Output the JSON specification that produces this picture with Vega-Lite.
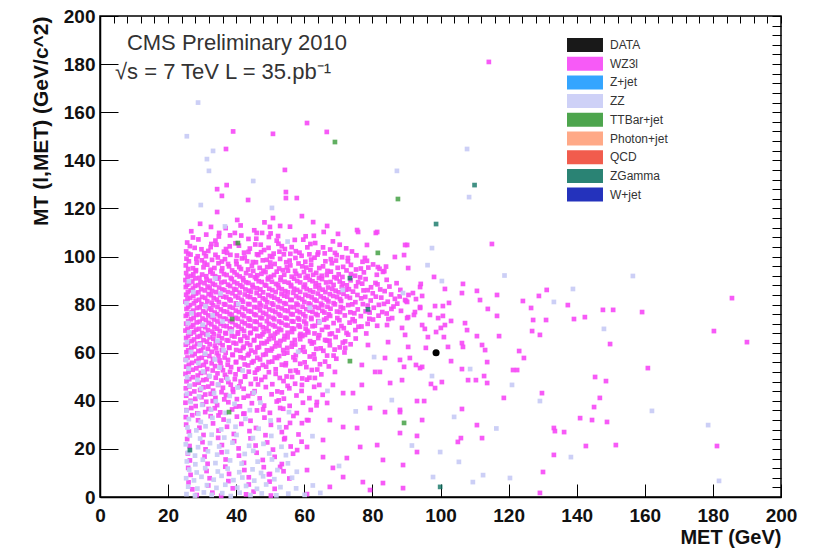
{
"$schema":"https://vega.github.io/schema/vega-lite/v6.json",
"width":681,"height":481,
"autosize":"none",
"padding":{"left":100,"top":16,"right":42,"bottom":55},
"background":"white",
"config":{
"view":{"stroke":"black","strokeWidth":1.5},
"font":"Liberation Sans",
"axis":{"domainColor":"black","domainWidth":1.5,"tickColor":"black","tickWidth":1,"grid":false,"labelFont":"Liberation Sans","labelFontWeight":"bold","labelFontSize":19,"labelColor":"#111","titleFont":"Liberation Sans","titleFontWeight":"bold","titleFontSize":20,"titleColor":"#111","labelFlush":false,"labelOverlap":false}
},
"datasets":{
"wz":[
{"MET":26.8,"MT":110.5},{"MET":31.2,"MT":109.1},{"MET":36.9,"MT":111.8},{"MET":41.5,"MT":108.7},{"MET":45.3,"MT":110.9},{"MET":50.1,"MT":109.6},{"MET":55.8,"MT":112.4},{"MET":60.4,"MT":108.4},{"MET":65.7,"MT":110.2},{"MET":29.4,"MT":113.6},{"MET":48.3,"MT":114.2},
{"MET":25.6,"MT":105.8},{"MET":28.9,"MT":107.1},{"MET":32.7,"MT":105.2},{"MET":34.9,"MT":108.3},{"MET":39.8,"MT":105.5},{"MET":43.6,"MT":107.3},{"MET":47.2,"MT":104.9},{"MET":51.9,"MT":106.6},{"MET":53.4,"MT":104.3},{"MET":59.7,"MT":107.0},{"MET":63.2,"MT":105.6},{"MET":68.4,"MT":106.3},
{"MET":25.3,"MT":102.1},{"MET":27.8,"MT":103.6},{"MET":30.6,"MT":101.4},{"MET":32.5,"MT":103.9},{"MET":36.4,"MT":102.0},{"MET":38.1,"MT":104.2},{"MET":42.3,"MT":101.6},{"MET":44.0,"MT":103.3},{"MET":48.2,"MT":102.7},{"MET":51.0,"MT":101.2},{"MET":54.3,"MT":103.1},{"MET":57.5,"MT":102.2},{"MET":60.9,"MT":103.8},{"MET":64.1,"MT":101.7},{"MET":67.6,"MT":102.9},{"MET":72.3,"MT":103.4},{"MET":46.1,"MT":100.9},
{"MET":25.4,"MT":99.1},{"MET":26.6,"MT":100.8},{"MET":29.9,"MT":98.4},{"MET":31.1,"MT":100.1},{"MET":34.6,"MT":99.6},{"MET":35.8,"MT":97.9},{"MET":38.3,"MT":100.7},{"MET":41.7,"MT":99.2},{"MET":43.2,"MT":98.0},{"MET":46.5,"MT":100.6},{"MET":49.0,"MT":98.6},{"MET":50.6,"MT":99.8},{"MET":54.0,"MT":100.9},{"MET":55.7,"MT":98.3},{"MET":59.2,"MT":100.3},{"MET":62.0,"MT":98.7},{"MET":63.9,"MT":100.8},{"MET":67.8,"MT":98.9},{"MET":71.1,"MT":99.7},{"MET":75.3,"MT":100.5},{"MET":78.4,"MT":98.2},
{"MET":25.2,"MT":96.3},{"MET":27.3,"MT":95.1},{"MET":28.4,"MT":97.4},{"MET":31.5,"MT":96.6},{"MET":33.6,"MT":95.2},{"MET":34.8,"MT":97.2},{"MET":37.9,"MT":95.9},{"MET":40.1,"MT":96.8},{"MET":41.4,"MT":94.8},{"MET":44.6,"MT":96.1},{"MET":45.8,"MT":97.6},{"MET":49.1,"MT":95.6},{"MET":51.3,"MT":96.9},{"MET":52.6,"MT":95.0},{"MET":55.9,"MT":96.3},{"MET":58.3,"MT":97.1},{"MET":60.6,"MT":95.4},{"MET":62.0,"MT":96.6},{"MET":65.5,"MT":95.9},{"MET":68.1,"MT":97.2},{"MET":69.8,"MT":95.3},{"MET":73.7,"MT":96.5},{"MET":76.6,"MT":95.0},{"MET":80.2,"MT":96.7},{"MET":84.0,"MT":95.8},
{"MET":25.3,"MT":93.1},{"MET":26.7,"MT":91.9},{"MET":28.1,"MT":93.9},{"MET":30.0,"MT":92.5},{"MET":32.4,"MT":93.6},{"MET":33.8,"MT":91.8},{"MET":35.7,"MT":93.9},{"MET":37.2,"MT":92.3},{"MET":39.5,"MT":93.4},{"MET":41.0,"MT":91.7},{"MET":42.9,"MT":93.1},{"MET":45.0,"MT":94.0},{"MET":46.2,"MT":92.2},{"MET":48.6,"MT":93.5},{"MET":50.2,"MT":91.6},{"MET":51.9,"MT":93.7},{"MET":54.1,"MT":92.4},{"MET":55.2,"MT":94.1},{"MET":57.6,"MT":92.8},{"MET":59.9,"MT":93.5},{"MET":61.0,"MT":91.9},{"MET":63.5,"MT":93.2},{"MET":65.1,"MT":92.0},{"MET":67.8,"MT":93.7},{"MET":70.1,"MT":92.6},{"MET":72.4,"MT":94.2},{"MET":74.9,"MT":92.0},{"MET":77.5,"MT":93.4},{"MET":81.3,"MT":92.4},{"MET":83.5,"MT":93.9},
{"MET":25.1,"MT":90.2},{"MET":26.2,"MT":88.9},{"MET":28.0,"MT":90.9},{"MET":29.5,"MT":89.3},{"MET":31.3,"MT":90.4},{"MET":33.1,"MT":88.7},{"MET":34.4,"MT":90.8},{"MET":36.6,"MT":89.5},{"MET":38.7,"MT":90.6},{"MET":40.3,"MT":88.8},{"MET":42.1,"MT":90.1},{"MET":43.6,"MT":89.0},{"MET":45.9,"MT":90.7},{"MET":47.5,"MT":89.4},{"MET":49.3,"MT":90.5},{"MET":51.7,"MT":88.6},{"MET":53.0,"MT":90.2},{"MET":55.4,"MT":89.1},{"MET":57.0,"MT":90.8},{"MET":58.8,"MT":89.2},{"MET":61.6,"MT":90.3},{"MET":63.4,"MT":88.9},{"MET":65.2,"MT":90.6},{"MET":67.7,"MT":89.4},{"MET":69.5,"MT":90.9},{"MET":71.3,"MT":88.8},{"MET":73.6,"MT":90.1},{"MET":75.8,"MT":89.3},{"MET":78.0,"MT":90.6},{"MET":80.9,"MT":89.0},{"MET":84.2,"MT":90.3},{"MET":87.1,"MT":88.9},
{"MET":25.2,"MT":87.3},{"MET":26.6,"MT":85.9},{"MET":27.9,"MT":87.8},{"MET":29.7,"MT":86.4},{"MET":31.6,"MT":87.5},{"MET":32.9,"MT":85.7},{"MET":35.0,"MT":87.1},{"MET":36.5,"MT":86.0},{"MET":38.2,"MT":87.7},{"MET":40.0,"MT":86.2},{"MET":41.8,"MT":87.4},{"MET":43.7,"MT":85.8},{"MET":44.9,"MT":87.2},{"MET":47.1,"MT":86.3},{"MET":48.8,"MT":87.9},{"MET":50.6,"MT":86.0},{"MET":52.5,"MT":87.0},{"MET":54.4,"MT":85.6},{"MET":56.1,"MT":87.6},{"MET":57.9,"MT":86.1},{"MET":59.8,"MT":87.3},{"MET":61.7,"MT":85.9},{"MET":63.3,"MT":87.5},{"MET":65.4,"MT":86.2},{"MET":67.0,"MT":87.1},{"MET":69.2,"MT":85.8},{"MET":71.0,"MT":87.4},{"MET":73.1,"MT":86.4},{"MET":75.2,"MT":87.6},{"MET":77.4,"MT":85.9},{"MET":79.6,"MT":87.2},{"MET":82.3,"MT":86.3},{"MET":85.0,"MT":87.5},{"MET":88.2,"MT":86.1},
{"MET":25.3,"MT":84.1},{"MET":26.5,"MT":82.8},{"MET":28.2,"MT":84.6},{"MET":30.0,"MT":83.2},{"MET":31.9,"MT":84.4},{"MET":33.4,"MT":82.7},{"MET":35.3,"MT":84.0},{"MET":37.1,"MT":83.0},{"MET":38.9,"MT":84.7},{"MET":40.6,"MT":82.9},{"MET":42.5,"MT":84.2},{"MET":44.1,"MT":83.1},{"MET":46.0,"MT":84.8},{"MET":47.8,"MT":82.6},{"MET":49.4,"MT":84.0},{"MET":51.2,"MT":82.9},{"MET":53.3,"MT":84.4},{"MET":55.0,"MT":83.3},{"MET":56.8,"MT":84.9},{"MET":58.4,"MT":82.8},{"MET":60.3,"MT":84.1},{"MET":62.2,"MT":83.0},{"MET":64.0,"MT":84.6},{"MET":65.7,"MT":82.7},{"MET":67.5,"MT":84.3},{"MET":69.6,"MT":83.1},{"MET":71.5,"MT":84.5},{"MET":73.4,"MT":82.8},{"MET":75.6,"MT":84.0},{"MET":77.9,"MT":83.2},{"MET":80.1,"MT":84.7},{"MET":82.6,"MT":82.9},{"MET":85.5,"MT":84.2},{"MET":88.0,"MT":83.4},{"MET":90.6,"MT":84.0},
{"MET":25.1,"MT":81.2},{"MET":26.4,"MT":79.8},{"MET":28.1,"MT":81.6},{"MET":29.8,"MT":80.2},{"MET":31.5,"MT":81.4},{"MET":33.2,"MT":79.7},{"MET":34.9,"MT":81.0},{"MET":36.8,"MT":80.0},{"MET":38.4,"MT":81.7},{"MET":40.2,"MT":79.9},{"MET":42.0,"MT":81.2},{"MET":43.9,"MT":80.1},{"MET":45.5,"MT":81.8},{"MET":47.3,"MT":79.6},{"MET":49.1,"MT":81.0},{"MET":50.9,"MT":79.9},{"MET":52.8,"MT":81.4},{"MET":54.6,"MT":80.3},{"MET":56.3,"MT":81.9},{"MET":58.1,"MT":79.8},{"MET":60.0,"MT":81.1},{"MET":61.8,"MT":80.0},{"MET":63.6,"MT":81.6},{"MET":65.3,"MT":79.7},{"MET":67.1,"MT":81.3},{"MET":69.0,"MT":80.1},{"MET":70.8,"MT":81.5},{"MET":72.9,"MT":79.8},{"MET":75.0,"MT":81.0},{"MET":77.2,"MT":80.2},{"MET":79.5,"MT":81.7},{"MET":81.9,"MT":79.9},{"MET":84.5,"MT":81.2},{"MET":87.3,"MT":80.4},{"MET":89.9,"MT":81.5},
{"MET":25.4,"MT":78.2},{"MET":26.9,"MT":76.8},{"MET":28.5,"MT":78.6},{"MET":30.3,"MT":77.2},{"MET":32.0,"MT":78.4},{"MET":33.7,"MT":76.7},{"MET":35.5,"MT":78.0},{"MET":37.3,"MT":77.0},{"MET":39.0,"MT":78.7},{"MET":40.8,"MT":76.9},{"MET":42.6,"MT":78.2},{"MET":44.4,"MT":77.1},{"MET":46.1,"MT":78.8},{"MET":47.9,"MT":76.6},{"MET":49.7,"MT":78.0},{"MET":51.5,"MT":76.9},{"MET":53.4,"MT":78.4},{"MET":55.2,"MT":77.3},{"MET":56.9,"MT":78.9},{"MET":58.7,"MT":76.8},{"MET":60.6,"MT":78.1},{"MET":62.4,"MT":77.0},{"MET":64.2,"MT":78.6},{"MET":65.9,"MT":76.7},{"MET":67.7,"MT":78.3},{"MET":69.6,"MT":77.1},{"MET":71.4,"MT":78.5},{"MET":73.5,"MT":76.8},{"MET":75.7,"MT":78.0},{"MET":78.0,"MT":77.2},{"MET":80.4,"MT":78.7},{"MET":82.9,"MT":76.9},{"MET":85.6,"MT":78.2},{"MET":88.4,"MT":77.4},
{"MET":25.2,"MT":75.3},{"MET":26.7,"MT":73.9},{"MET":28.3,"MT":75.7},{"MET":30.1,"MT":74.2},{"MET":31.8,"MT":75.5},{"MET":33.5,"MT":73.8},{"MET":35.2,"MT":75.1},{"MET":37.0,"MT":74.0},{"MET":38.7,"MT":75.8},{"MET":40.5,"MT":74.1},{"MET":42.3,"MT":75.2},{"MET":44.0,"MT":73.7},{"MET":45.8,"MT":75.6},{"MET":47.6,"MT":74.3},{"MET":49.5,"MT":75.0},{"MET":51.2,"MT":73.9},{"MET":53.0,"MT":75.4},{"MET":54.9,"MT":74.2},{"MET":56.6,"MT":75.9},{"MET":58.5,"MT":73.8},{"MET":60.3,"MT":75.1},{"MET":62.1,"MT":74.0},{"MET":63.9,"MT":75.6},{"MET":65.8,"MT":73.7},{"MET":67.6,"MT":75.3},{"MET":69.7,"MT":74.4},{"MET":71.9,"MT":75.5},{"MET":74.2,"MT":73.9},{"MET":76.6,"MT":75.2},{"MET":79.1,"MT":74.1},{"MET":81.8,"MT":75.4},{"MET":84.7,"MT":74.0},
{"MET":25.3,"MT":72.1},{"MET":26.8,"MT":70.8},{"MET":28.4,"MT":72.6},{"MET":30.2,"MT":71.2},{"MET":31.9,"MT":72.4},{"MET":33.6,"MT":70.7},{"MET":35.4,"MT":72.0},{"MET":37.2,"MT":71.0},{"MET":38.9,"MT":72.7},{"MET":40.7,"MT":70.9},{"MET":42.5,"MT":72.2},{"MET":44.2,"MT":71.1},{"MET":46.0,"MT":72.8},{"MET":47.8,"MT":70.6},{"MET":49.6,"MT":72.0},{"MET":51.4,"MT":70.9},{"MET":53.3,"MT":72.4},{"MET":55.1,"MT":71.3},{"MET":56.8,"MT":72.9},{"MET":58.7,"MT":70.8},{"MET":60.5,"MT":72.1},{"MET":62.4,"MT":71.0},{"MET":64.3,"MT":72.6},{"MET":66.4,"MT":70.7},{"MET":68.6,"MT":72.3},{"MET":70.9,"MT":71.1},{"MET":73.3,"MT":72.5},{"MET":75.9,"MT":70.8},{"MET":78.6,"MT":72.0},{"MET":81.4,"MT":71.2},
{"MET":25.1,"MT":69.2},{"MET":26.6,"MT":67.9},{"MET":28.2,"MT":69.6},{"MET":30.0,"MT":68.2},{"MET":31.7,"MT":69.4},{"MET":33.4,"MT":67.7},{"MET":35.2,"MT":69.0},{"MET":37.0,"MT":68.0},{"MET":38.7,"MT":69.7},{"MET":40.5,"MT":67.9},{"MET":42.3,"MT":69.1},{"MET":44.1,"MT":68.1},{"MET":45.9,"MT":69.8},{"MET":47.7,"MT":67.6},{"MET":49.5,"MT":69.0},{"MET":51.4,"MT":67.9},{"MET":53.2,"MT":69.4},{"MET":55.1,"MT":68.3},{"MET":57.0,"MT":69.9},{"MET":58.9,"MT":67.8},{"MET":60.9,"MT":69.1},{"MET":63.0,"MT":68.0},{"MET":65.2,"MT":69.5},{"MET":67.5,"MT":67.7},{"MET":69.9,"MT":69.2},{"MET":72.4,"MT":68.2},{"MET":75.0,"MT":69.4},{"MET":78.2,"MT":68.0},
{"MET":25.3,"MT":66.1},{"MET":26.9,"MT":64.8},{"MET":28.6,"MT":66.6},{"MET":30.4,"MT":65.2},{"MET":32.2,"MT":66.4},{"MET":34.0,"MT":64.7},{"MET":35.8,"MT":66.0},{"MET":37.7,"MT":65.0},{"MET":39.5,"MT":66.7},{"MET":41.4,"MT":64.9},{"MET":43.3,"MT":66.2},{"MET":45.2,"MT":65.1},{"MET":47.1,"MT":66.8},{"MET":49.0,"MT":64.6},{"MET":51.0,"MT":66.0},{"MET":53.0,"MT":64.9},{"MET":55.1,"MT":66.4},{"MET":57.2,"MT":65.3},{"MET":59.4,"MT":66.9},{"MET":61.7,"MT":64.8},{"MET":64.1,"MT":66.1},{"MET":66.6,"MT":65.0},{"MET":69.2,"MT":66.5},{"MET":72.0,"MT":64.7},{"MET":75.1,"MT":65.9},
{"MET":25.2,"MT":63.3},{"MET":26.8,"MT":61.9},{"MET":28.5,"MT":63.7},{"MET":30.3,"MT":62.2},{"MET":32.2,"MT":63.5},{"MET":34.1,"MT":61.8},{"MET":36.0,"MT":63.1},{"MET":38.0,"MT":62.0},{"MET":40.0,"MT":63.8},{"MET":42.0,"MT":61.9},{"MET":44.1,"MT":63.2},{"MET":46.2,"MT":62.1},{"MET":48.3,"MT":63.9},{"MET":50.5,"MT":61.7},{"MET":52.7,"MT":63.0},{"MET":55.0,"MT":62.0},{"MET":57.3,"MT":63.4},{"MET":59.7,"MT":62.3},{"MET":62.2,"MT":63.8},{"MET":64.8,"MT":61.8},{"MET":67.5,"MT":63.1},{"MET":70.4,"MT":62.2},{"MET":73.6,"MT":63.5},
{"MET":25.4,"MT":60.2},{"MET":27.1,"MT":58.9},{"MET":28.9,"MT":60.7},{"MET":30.8,"MT":59.2},{"MET":32.8,"MT":60.4},{"MET":34.8,"MT":58.7},{"MET":36.9,"MT":60.0},{"MET":39.0,"MT":59.0},{"MET":41.2,"MT":60.8},{"MET":43.4,"MT":58.9},{"MET":45.6,"MT":60.2},{"MET":47.9,"MT":59.1},{"MET":50.2,"MT":60.9},{"MET":52.6,"MT":58.6},{"MET":55.0,"MT":60.0},{"MET":57.5,"MT":59.0},{"MET":60.1,"MT":60.4},{"MET":62.8,"MT":59.3},{"MET":65.6,"MT":60.8},{"MET":68.6,"MT":58.8},{"MET":71.8,"MT":60.1},
{"MET":25.2,"MT":57.1},{"MET":27.0,"MT":55.8},{"MET":29.0,"MT":57.6},{"MET":31.1,"MT":56.2},{"MET":33.2,"MT":57.4},{"MET":35.4,"MT":55.7},{"MET":37.6,"MT":57.0},{"MET":39.9,"MT":56.0},{"MET":42.2,"MT":57.7},{"MET":44.6,"MT":55.9},{"MET":47.0,"MT":57.2},{"MET":49.5,"MT":56.1},{"MET":52.0,"MT":57.8},{"MET":54.6,"MT":55.6},{"MET":57.3,"MT":57.0},{"MET":60.1,"MT":56.0},{"MET":63.0,"MT":57.4},{"MET":66.1,"MT":56.3},{"MET":69.4,"MT":57.5},
{"MET":25.3,"MT":54.2},{"MET":27.2,"MT":52.9},{"MET":29.3,"MT":54.6},{"MET":31.5,"MT":53.2},{"MET":33.8,"MT":54.4},{"MET":36.1,"MT":52.7},{"MET":38.5,"MT":54.0},{"MET":41.0,"MT":53.0},{"MET":43.5,"MT":54.7},{"MET":46.1,"MT":52.9},{"MET":48.8,"MT":54.2},{"MET":51.6,"MT":53.1},{"MET":54.5,"MT":54.8},{"MET":57.5,"MT":52.6},{"MET":60.6,"MT":54.0},{"MET":63.8,"MT":53.0},{"MET":67.2,"MT":54.3},
{"MET":25.1,"MT":51.2},{"MET":27.3,"MT":49.8},{"MET":29.6,"MT":51.6},{"MET":32.0,"MT":50.2},{"MET":34.5,"MT":51.4},{"MET":37.1,"MT":49.7},{"MET":39.8,"MT":51.0},{"MET":42.6,"MT":50.0},{"MET":45.5,"MT":51.7},{"MET":48.5,"MT":49.9},{"MET":51.6,"MT":51.2},{"MET":54.8,"MT":50.1},{"MET":58.1,"MT":51.8},{"MET":61.5,"MT":49.6},{"MET":65.0,"MT":51.0},
{"MET":25.4,"MT":48.1},{"MET":27.8,"MT":46.8},{"MET":30.3,"MT":48.6},{"MET":32.9,"MT":47.2},{"MET":35.6,"MT":48.4},{"MET":38.4,"MT":46.7},{"MET":41.3,"MT":48.0},{"MET":44.3,"MT":47.0},{"MET":47.4,"MT":48.7},{"MET":50.6,"MT":46.9},{"MET":53.9,"MT":48.2},{"MET":57.3,"MT":47.1},{"MET":60.8,"MT":48.8},{"MET":64.4,"MT":46.6},
{"MET":25.2,"MT":45.2},{"MET":27.7,"MT":43.9},{"MET":30.4,"MT":45.6},{"MET":33.2,"MT":44.2},{"MET":36.1,"MT":45.4},{"MET":39.1,"MT":43.7},{"MET":42.2,"MT":45.0},{"MET":45.4,"MT":44.0},{"MET":48.7,"MT":45.7},{"MET":52.1,"MT":43.9},{"MET":55.6,"MT":45.2},{"MET":59.2,"MT":44.1},{"MET":62.9,"MT":45.8},
{"MET":25.3,"MT":42.1},{"MET":28.0,"MT":40.8},{"MET":30.9,"MT":42.6},{"MET":33.9,"MT":41.2},{"MET":37.0,"MT":42.4},{"MET":40.2,"MT":40.7},{"MET":43.5,"MT":42.0},{"MET":46.9,"MT":41.0},{"MET":50.4,"MT":42.7},{"MET":54.0,"MT":40.9},{"MET":57.7,"MT":42.2},{"MET":61.5,"MT":41.1},{"MET":65.4,"MT":42.5},
{"MET":25.1,"MT":39.2},{"MET":28.1,"MT":37.8},{"MET":31.2,"MT":39.6},{"MET":34.4,"MT":38.2},{"MET":37.7,"MT":39.4},{"MET":41.1,"MT":37.7},{"MET":44.6,"MT":39.0},{"MET":48.2,"MT":38.0},{"MET":51.9,"MT":39.7},{"MET":55.7,"MT":37.9},{"MET":59.6,"MT":39.2},{"MET":63.6,"MT":38.1},
{"MET":25.4,"MT":36.1},{"MET":28.6,"MT":34.8},{"MET":31.9,"MT":36.6},{"MET":35.3,"MT":35.2},{"MET":38.8,"MT":36.4},{"MET":42.4,"MT":34.7},{"MET":46.1,"MT":36.0},{"MET":49.9,"MT":35.0},{"MET":53.8,"MT":36.7},{"MET":57.8,"MT":34.9},{"MET":61.9,"MT":36.2},
{"MET":25.2,"MT":33.2},{"MET":28.8,"MT":31.9},{"MET":32.5,"MT":33.6},{"MET":36.3,"MT":32.2},{"MET":40.2,"MT":33.4},{"MET":44.2,"MT":31.7},{"MET":48.3,"MT":33.0},{"MET":52.5,"MT":32.0},{"MET":56.8,"MT":33.7},{"MET":61.2,"MT":31.9},
{"MET":25.3,"MT":30.1},{"MET":29.2,"MT":28.8},{"MET":33.2,"MT":30.6},{"MET":37.3,"MT":29.2},{"MET":41.5,"MT":30.4},{"MET":45.8,"MT":28.7},{"MET":50.2,"MT":30.0},{"MET":54.7,"MT":29.0},{"MET":59.3,"MT":30.7},
{"MET":26.1,"MT":27.2},{"MET":30.4,"MT":25.8},{"MET":34.8,"MT":27.6},{"MET":39.3,"MT":26.2},{"MET":43.9,"MT":27.4},{"MET":48.6,"MT":25.7},{"MET":53.4,"MT":27.0},{"MET":58.3,"MT":26.0},
{"MET":25.6,"MT":24.1},{"MET":30.1,"MT":22.8},{"MET":34.7,"MT":24.6},{"MET":39.4,"MT":23.2},{"MET":44.2,"MT":24.4},{"MET":49.1,"MT":22.7},{"MET":54.1,"MT":24.0},{"MET":59.2,"MT":23.0},
{"MET":26.3,"MT":21.2},{"MET":31.0,"MT":19.8},{"MET":35.8,"MT":21.6},{"MET":40.7,"MT":20.2},{"MET":45.7,"MT":21.4},{"MET":50.8,"MT":19.7},{"MET":56.0,"MT":21.0},
{"MET":25.8,"MT":18.1},{"MET":30.7,"MT":16.8},{"MET":35.7,"MT":18.6},{"MET":40.8,"MT":17.2},{"MET":46.0,"MT":18.4},{"MET":51.3,"MT":16.7},{"MET":56.7,"MT":18.0},
{"MET":26.4,"MT":15.2},{"MET":31.6,"MT":13.8},{"MET":36.9,"MT":15.6},{"MET":42.3,"MT":14.2},{"MET":47.8,"MT":15.4},{"MET":53.4,"MT":13.7},
{"MET":25.9,"MT":12.1},{"MET":31.3,"MT":10.8},{"MET":36.8,"MT":12.6},{"MET":42.4,"MT":11.2},{"MET":48.1,"MT":12.4},{"MET":53.9,"MT":10.7},
{"MET":26.6,"MT":9.2},{"MET":32.2,"MT":7.8},{"MET":37.9,"MT":9.6},{"MET":43.7,"MT":8.2},{"MET":49.6,"MT":9.4},{"MET":55.6,"MT":7.7},
{"MET":26.0,"MT":6.1},{"MET":31.8,"MT":4.8},{"MET":37.7,"MT":6.6},{"MET":43.7,"MT":5.2},{"MET":49.8,"MT":6.4},
{"MET":27.1,"MT":3.2},{"MET":33.0,"MT":1.8},{"MET":39.0,"MT":3.6},{"MET":45.1,"MT":2.2},{"MET":51.3,"MT":3.4},
{"MET":28.4,"MT":0.8},{"MET":35.6,"MT":0.5},{"MET":42.9,"MT":1.1},{"MET":50.2,"MT":0.6},
{"MET":27.3,"MT":107.9},{"MET":33.9,"MT":106.6},{"MET":38.2,"MT":108.8},{"MET":45.9,"MT":107.4},{"MET":49.6,"MT":108.1},{"MET":57.2,"MT":106.9},{"MET":62.8,"MT":108.6},{"MET":41.3,"MT":112.9},
{"MET":26.4,"MT":104.3},{"MET":29.8,"MT":103.0},{"MET":34.2,"MT":104.9},{"MET":37.0,"MT":103.1},{"MET":40.8,"MT":104.5},{"MET":45.6,"MT":105.0},{"MET":49.5,"MT":103.6},{"MET":52.4,"MT":105.3},{"MET":56.3,"MT":103.9},{"MET":61.8,"MT":105.2},{"MET":65.5,"MT":103.8},{"MET":70.4,"MT":104.9},
{"MET":25.9,"MT":101.2},{"MET":28.7,"MT":100.1},{"MET":31.8,"MT":102.3},{"MET":33.9,"MT":100.7},{"MET":37.3,"MT":101.5},{"MET":40.2,"MT":100.4},{"MET":43.6,"MT":101.9},{"MET":47.3,"MT":101.8},{"MET":49.9,"MT":100.2},{"MET":52.7,"MT":102.0},{"MET":55.9,"MT":101.1},{"MET":58.6,"MT":101.6},{"MET":61.5,"MT":100.9},{"MET":66.0,"MT":101.3},{"MET":69.5,"MT":100.6},{"MET":74.0,"MT":102.1},
{"MET":26.1,"MT":98.0},{"MET":28.3,"MT":99.1},{"MET":30.7,"MT":97.4},{"MET":32.9,"MT":98.6},{"MET":36.7,"MT":98.9},{"MET":37.6,"MT":96.9},{"MET":40.0,"MT":98.1},{"MET":42.5,"MT":99.6},{"MET":44.9,"MT":97.7},{"MET":47.8,"MT":98.4},{"MET":50.0,"MT":97.5},{"MET":52.9,"MT":99.0},{"MET":54.7,"MT":97.6},{"MET":57.4,"MT":99.4},{"MET":60.3,"MT":97.8},{"MET":63.0,"MT":99.5},{"MET":66.2,"MT":98.0},{"MET":69.3,"MT":98.3},{"MET":72.8,"MT":98.0},{"MET":77.1,"MT":97.8},
{"MET":25.9,"MT":94.8},{"MET":28.2,"MT":94.3},{"MET":30.4,"MT":95.5},{"MET":32.5,"MT":94.5},{"MET":35.9,"MT":95.1},{"MET":38.8,"MT":94.2},{"MET":40.9,"MT":95.6},{"MET":43.5,"MT":94.6},{"MET":46.9,"MT":95.3},{"MET":48.0,"MT":94.1},{"MET":50.2,"MT":95.8},{"MET":53.7,"MT":94.3},{"MET":54.9,"MT":95.5},{"MET":57.3,"MT":94.0},{"MET":59.4,"MT":95.9},{"MET":61.8,"MT":94.4},{"MET":64.4,"MT":95.2},{"MET":66.8,"MT":94.0},{"MET":71.4,"MT":95.7},{"MET":75.2,"MT":94.6},{"MET":78.8,"MT":95.4},{"MET":82.1,"MT":94.9},
{"MET":25.7,"MT":91.5},{"MET":27.4,"MT":92.6},{"MET":29.2,"MT":91.1},{"MET":31.2,"MT":91.8},{"MET":33.1,"MT":92.9},{"MET":34.9,"MT":91.3},{"MET":36.4,"MT":92.7},{"MET":38.4,"MT":91.1},{"MET":40.2,"MT":92.4},{"MET":42.0,"MT":91.0},{"MET":44.2,"MT":92.1},{"MET":45.5,"MT":91.4},{"MET":47.4,"MT":92.8},{"MET":49.4,"MT":91.2},{"MET":51.1,"MT":92.3},{"MET":53.1,"MT":91.3},{"MET":56.3,"MT":91.6},{"MET":58.6,"MT":92.0},{"MET":60.4,"MT":91.2},{"MET":62.6,"MT":92.4},{"MET":64.3,"MT":91.1},{"MET":66.6,"MT":92.3},{"MET":68.8,"MT":91.4},{"MET":71.2,"MT":91.5},{"MET":73.7,"MT":92.7},{"MET":76.4,"MT":91.3},
{"MET":25.6,"MT":88.3},{"MET":27.1,"MT":89.6},{"MET":28.9,"MT":88.1},{"MET":30.7,"MT":88.9},{"MET":32.3,"MT":89.9},{"MET":33.8,"MT":88.2},{"MET":35.6,"MT":89.2},{"MET":37.6,"MT":88.3},{"MET":39.4,"MT":89.4},{"MET":41.2,"MT":88.0},{"MET":42.9,"MT":89.3},{"MET":44.8,"MT":88.2},{"MET":46.6,"MT":89.7},{"MET":48.4,"MT":88.2},{"MET":50.5,"MT":89.5},{"MET":52.3,"MT":88.1},{"MET":54.2,"MT":89.5},{"MET":56.1,"MT":88.2},{"MET":57.9,"MT":89.8},{"MET":60.2,"MT":88.3},{"MET":62.4,"MT":89.7},{"MET":64.3,"MT":88.1},{"MET":66.4,"MT":89.2},{"MET":68.6,"MT":88.2},{"MET":70.4,"MT":89.6},{"MET":72.5,"MT":88.0},{"MET":77.0,"MT":88.7},{"MET":81.5,"MT":88.4},
{"MET":25.8,"MT":85.2},{"MET":27.3,"MT":86.7},{"MET":28.9,"MT":85.1},{"MET":30.8,"MT":85.9},{"MET":32.2,"MT":86.9},{"MET":34.1,"MT":85.2},{"MET":35.9,"MT":86.3},{"MET":37.6,"MT":85.2},{"MET":39.4,"MT":86.5},{"MET":41.0,"MT":85.0},{"MET":42.7,"MT":86.3},{"MET":44.3,"MT":85.3},{"MET":46.1,"MT":86.8},{"MET":47.9,"MT":85.1},{"MET":49.7,"MT":86.6},{"MET":51.6,"MT":85.2},{"MET":53.4,"MT":86.4},{"MET":55.2,"MT":85.1},{"MET":57.0,"MT":86.6},{"MET":58.8,"MT":85.3},{"MET":60.7,"MT":86.5},{"MET":62.6,"MT":85.2},{"MET":64.4,"MT":86.7},{"MET":66.2,"MT":85.2},{"MET":68.2,"MT":86.5},{"MET":70.1,"MT":85.1},{"MET":72.2,"MT":86.2},{"MET":74.3,"MT":85.4},{"MET":78.6,"MT":86.0},{"MET":83.6,"MT":85.6},
{"MET":25.7,"MT":82.3},{"MET":27.4,"MT":83.7},{"MET":29.1,"MT":82.0},{"MET":30.9,"MT":82.8},{"MET":32.6,"MT":83.9},{"MET":34.3,"MT":82.1},{"MET":36.2,"MT":83.3},{"MET":38.0,"MT":82.2},{"MET":39.8,"MT":83.5},{"MET":41.6,"MT":82.0},{"MET":43.4,"MT":83.4},{"MET":45.2,"MT":82.2},{"MET":46.9,"MT":83.7},{"MET":48.6,"MT":82.1},{"MET":50.4,"MT":83.5},{"MET":52.2,"MT":82.2},{"MET":54.1,"MT":83.7},{"MET":55.9,"MT":82.0},{"MET":57.6,"MT":83.5},{"MET":59.4,"MT":82.2},{"MET":61.2,"MT":83.6},{"MET":63.0,"MT":82.1},{"MET":64.8,"MT":83.4},{"MET":66.6,"MT":82.1},{"MET":68.5,"MT":83.6},{"MET":70.5,"MT":82.3},{"MET":72.5,"MT":83.4},{"MET":76.7,"MT":82.6},{"MET":81.0,"MT":83.3},{"MET":86.6,"MT":82.4},
{"MET":25.9,"MT":79.0},{"MET":27.6,"MT":80.5},{"MET":29.3,"MT":78.9},{"MET":31.1,"MT":79.6},{"MET":32.8,"MT":80.8},{"MET":34.5,"MT":79.0},{"MET":36.4,"MT":80.2},{"MET":38.1,"MT":79.1},{"MET":39.9,"MT":80.5},{"MET":41.7,"MT":78.9},{"MET":43.5,"MT":80.3},{"MET":45.3,"MT":79.0},{"MET":46.9,"MT":80.6},{"MET":48.7,"MT":79.1},{"MET":50.5,"MT":80.5},{"MET":52.3,"MT":79.0},{"MET":54.1,"MT":80.6},{"MET":55.9,"MT":79.0},{"MET":57.7,"MT":80.4},{"MET":59.5,"MT":79.1},{"MET":61.3,"MT":80.5},{"MET":63.1,"MT":79.0},{"MET":64.9,"MT":80.4},{"MET":66.8,"MT":79.1},{"MET":68.6,"MT":80.6},{"MET":70.7,"MT":79.0},{"MET":74.1,"MT":80.1},{"MET":78.6,"MT":79.6},{"MET":83.4,"MT":80.3},{"MET":86.2,"MT":79.2},
{"MET":25.7,"MT":76.0},{"MET":27.4,"MT":77.5},{"MET":29.2,"MT":75.9},{"MET":31.0,"MT":76.6},{"MET":32.7,"MT":77.8},{"MET":34.4,"MT":76.0},{"MET":36.3,"MT":77.2},{"MET":38.1,"MT":76.1},{"MET":39.9,"MT":77.5},{"MET":41.8,"MT":75.9},{"MET":43.6,"MT":77.3},{"MET":45.3,"MT":76.0},{"MET":47.0,"MT":77.6},{"MET":48.8,"MT":76.1},{"MET":50.7,"MT":77.5},{"MET":52.5,"MT":76.0},{"MET":54.3,"MT":77.6},{"MET":56.1,"MT":76.1},{"MET":57.9,"MT":77.4},{"MET":59.7,"MT":76.0},{"MET":61.6,"MT":77.5},{"MET":63.4,"MT":76.1},{"MET":65.3,"MT":77.4},{"MET":67.2,"MT":76.0},{"MET":70.5,"MT":76.9},{"MET":74.7,"MT":76.4},{"MET":79.2,"MT":76.7},{"MET":84.2,"MT":76.3},
{"MET":25.9,"MT":73.0},{"MET":27.5,"MT":74.5},{"MET":29.3,"MT":72.9},{"MET":31.1,"MT":73.6},{"MET":32.8,"MT":74.8},{"MET":34.5,"MT":73.0},{"MET":36.4,"MT":74.2},{"MET":38.2,"MT":73.1},{"MET":39.9,"MT":74.5},{"MET":41.7,"MT":72.9},{"MET":43.6,"MT":74.3},{"MET":45.4,"MT":73.0},{"MET":47.1,"MT":74.6},{"MET":49.0,"MT":73.1},{"MET":50.8,"MT":74.5},{"MET":52.6,"MT":73.0},{"MET":54.4,"MT":74.6},{"MET":56.3,"MT":73.1},{"MET":58.1,"MT":74.4},{"MET":60.0,"MT":73.0},{"MET":62.0,"MT":74.5},{"MET":64.1,"MT":73.1},{"MET":66.5,"MT":74.3},{"MET":70.3,"MT":73.5},{"MET":74.8,"MT":73.1},{"MET":80.2,"MT":73.8},
{"MET":25.7,"MT":70.0},{"MET":27.4,"MT":71.5},{"MET":29.1,"MT":69.9},{"MET":30.9,"MT":70.6},{"MET":32.7,"MT":71.8},{"MET":34.4,"MT":70.0},{"MET":36.3,"MT":71.2},{"MET":38.1,"MT":70.1},{"MET":39.8,"MT":71.5},{"MET":41.6,"MT":69.9},{"MET":43.5,"MT":71.3},{"MET":45.3,"MT":70.0},{"MET":47.0,"MT":71.6},{"MET":48.9,"MT":70.1},{"MET":50.8,"MT":71.5},{"MET":52.6,"MT":70.0},{"MET":54.5,"MT":71.6},{"MET":56.4,"MT":70.1},{"MET":58.3,"MT":71.4},{"MET":60.4,"MT":70.0},{"MET":63.1,"MT":71.2},{"MET":66.9,"MT":70.6},{"MET":71.6,"MT":70.2},{"MET":76.8,"MT":70.9},
{"MET":25.9,"MT":67.0},{"MET":27.6,"MT":68.5},{"MET":29.4,"MT":66.9},{"MET":31.2,"MT":67.6},{"MET":33.0,"MT":68.8},{"MET":34.9,"MT":67.0},{"MET":36.8,"MT":68.2},{"MET":38.7,"MT":67.1},{"MET":40.5,"MT":68.5},{"MET":42.4,"MT":66.9},{"MET":44.3,"MT":68.3},{"MET":46.2,"MT":67.0},{"MET":48.1,"MT":68.6},{"MET":50.1,"MT":67.1},{"MET":52.1,"MT":68.5},{"MET":54.2,"MT":67.0},{"MET":56.4,"MT":68.6},{"MET":58.7,"MT":67.1},{"MET":61.2,"MT":68.4},{"MET":64.4,"MT":67.3},{"MET":68.1,"MT":68.0},{"MET":72.9,"MT":67.5},
{"MET":25.8,"MT":64.0},{"MET":27.6,"MT":65.5},{"MET":29.5,"MT":63.9},{"MET":31.4,"MT":64.6},{"MET":33.3,"MT":65.8},{"MET":35.2,"MT":64.0},{"MET":37.2,"MT":65.2},{"MET":39.2,"MT":64.1},{"MET":41.2,"MT":65.5},{"MET":43.2,"MT":63.9},{"MET":45.3,"MT":65.3},{"MET":47.4,"MT":64.0},{"MET":49.6,"MT":65.6},{"MET":51.8,"MT":64.1},{"MET":54.1,"MT":65.5},{"MET":56.4,"MT":64.0},{"MET":58.8,"MT":65.6},{"MET":62.8,"MT":64.3},{"MET":67.4,"MT":65.0},{"MET":71.3,"MT":64.2},
{"MET":25.9,"MT":61.0},{"MET":27.7,"MT":62.5},{"MET":29.7,"MT":60.9},{"MET":31.7,"MT":61.6},{"MET":33.7,"MT":62.8},{"MET":35.8,"MT":61.0},{"MET":37.9,"MT":62.2},{"MET":40.0,"MT":61.1},{"MET":42.2,"MT":62.5},{"MET":44.4,"MT":60.9},{"MET":46.7,"MT":62.3},{"MET":49.0,"MT":61.0},{"MET":51.4,"MT":62.6},{"MET":53.8,"MT":61.1},{"MET":56.3,"MT":62.5},{"MET":58.9,"MT":61.0},{"MET":63.5,"MT":61.6},{"MET":68.9,"MT":61.3},
{"MET":25.7,"MT":58.0},{"MET":27.8,"MT":59.5},{"MET":29.9,"MT":57.9},{"MET":32.1,"MT":58.6},{"MET":34.3,"MT":59.8},{"MET":36.6,"MT":58.0},{"MET":38.9,"MT":59.2},{"MET":41.3,"MT":58.1},{"MET":43.7,"MT":59.5},{"MET":46.2,"MT":57.9},{"MET":48.7,"MT":59.3},{"MET":51.3,"MT":58.0},{"MET":54.0,"MT":59.6},{"MET":56.8,"MT":58.1},{"MET":61.6,"MT":58.4},{"MET":66.7,"MT":58.8},
{"MET":26.1,"MT":55.0},{"MET":28.3,"MT":56.5},{"MET":30.5,"MT":54.9},{"MET":32.8,"MT":55.6},{"MET":35.1,"MT":56.8},{"MET":37.5,"MT":55.0},{"MET":40.0,"MT":56.2},{"MET":42.5,"MT":55.1},{"MET":45.1,"MT":56.5},{"MET":47.8,"MT":54.9},{"MET":50.6,"MT":56.3},{"MET":53.4,"MT":55.0},{"MET":58.8,"MT":55.4},{"MET":64.6,"MT":55.2},
{"MET":26.0,"MT":52.0},{"MET":28.3,"MT":53.5},{"MET":30.7,"MT":51.9},{"MET":33.1,"MT":52.6},{"MET":35.6,"MT":53.8},{"MET":38.2,"MT":52.0},{"MET":40.9,"MT":53.2},{"MET":43.7,"MT":52.1},{"MET":46.6,"MT":53.5},{"MET":49.6,"MT":51.9},{"MET":55.9,"MT":52.4},{"MET":62.2,"MT":52.8},
{"MET":26.2,"MT":49.0},{"MET":28.7,"MT":50.5},{"MET":31.3,"MT":48.9},{"MET":34.0,"MT":49.6},{"MET":36.7,"MT":50.8},{"MET":39.6,"MT":49.0},{"MET":42.6,"MT":50.2},{"MET":45.7,"MT":49.1},{"MET":52.8,"MT":49.5},{"MET":59.4,"MT":49.3},
{"MET":26.3,"MT":46.0},{"MET":29.0,"MT":47.5},{"MET":31.8,"MT":45.9},{"MET":34.7,"MT":46.6},{"MET":37.7,"MT":47.8},{"MET":40.9,"MT":46.0},{"MET":46.4,"MT":46.8},{"MET":55.1,"MT":46.2},
{"MET":26.4,"MT":43.0},{"MET":29.4,"MT":44.5},{"MET":32.5,"MT":42.9},{"MET":35.7,"MT":43.6},{"MET":39.0,"MT":44.8},{"MET":44.8,"MT":43.1},{"MET":53.4,"MT":43.5},
{"MET":26.6,"MT":40.0},{"MET":29.8,"MT":41.5},{"MET":33.1,"MT":39.9},{"MET":36.5,"MT":40.6},{"MET":42.2,"MT":41.3},{"MET":52.5,"MT":40.2},
{"MET":26.8,"MT":37.0},{"MET":30.2,"MT":38.5},{"MET":33.7,"MT":36.9},{"MET":39.9,"MT":37.6},{"MET":47.9,"MT":36.4},
{"MET":27.1,"MT":34.0},{"MET":30.9,"MT":35.3},{"MET":34.8,"MT":33.9},{"MET":42.1,"MT":34.6},
{"MET":90.2,"MT":104.8},{"MET":89.3,"MT":100.6},{"MET":115.1,"MT":105.2},{"MET":98.1,"MT":91.5},{"MET":94.2,"MT":88.6},{"MET":106.6,"MT":88.6},{"MET":101.3,"MT":86.5},{"MET":94.6,"MT":83.6},{"MET":106.3,"MT":84.8},{"MET":110.7,"MT":85.7},{"MET":116.6,"MT":84},{"MET":90.2,"MT":81.1},{"MET":92.8,"MT":82.3},{"MET":98.4,"MT":79.4},{"MET":100.7,"MT":79.4},{"MET":102.5,"MT":80.7},{"MET":111.6,"MT":81.9},{"MET":113.9,"MT":78.2},{"MET":124.2,"MT":81.5},{"MET":128.9,"MT":83.6},{"MET":131.2,"MT":86.1},{"MET":126.6,"MT":78.6},{"MET":137.4,"MT":79.8},{"MET":147.7,"MT":77.8},{"MET":150.7,"MT":77.8},{"MET":159.2,"MT":76.9},{"MET":185.6,"MT":82.7},{"MET":180.3,"MT":69},{"MET":190,"MT":64.4},{"MET":160.9,"MT":53.6},{"MET":149.8,"MT":63.6},{"MET":142.4,"MT":74.8},{"MET":139.2,"MT":74},{"MET":131,"MT":73.6},{"MET":127.2,"MT":73.6},{"MET":126.9,"MT":69},{"MET":129.2,"MT":67.4},{"MET":90.2,"MT":74.4},{"MET":92.2,"MT":75.7},{"MET":94,"MT":78.6},{"MET":96.9,"MT":75.7},{"MET":99.3,"MT":74.4},{"MET":100.7,"MT":75.3},{"MET":103.1,"MT":73.2},{"MET":95.4,"MT":69.9},{"MET":98.7,"MT":68.6},{"MET":100.1,"MT":70.3},{"MET":101.3,"MT":71.5},{"MET":96.3,"MT":66.5},{"MET":101,"MT":66.5},{"MET":107.2,"MT":72.3},{"MET":107.8,"MT":69.4},{"MET":110.7,"MT":66.9},{"MET":117.2,"MT":66.9},{"MET":116.6,"MT":75.3},{"MET":90.5,"MT":62.4},{"MET":95.7,"MT":62},{"MET":102.2,"MT":62.4},{"MET":106.3,"MT":64},{"MET":106.6,"MT":62.4},{"MET":112.2,"MT":63.2},{"MET":113.1,"MT":61.1},{"MET":123.1,"MT":60.7},{"MET":124.5,"MT":57.8},{"MET":103.1,"MT":56.5},{"MET":88.1,"MT":57},{"MET":89.3,"MT":54.1},{"MET":92.8,"MT":54.9},{"MET":94.6,"MT":54.1},{"MET":106.3,"MT":53.2},{"MET":113.7,"MT":56.1},{"MET":112.8,"MT":50.3},{"MET":113.7,"MT":47.4},{"MET":108.1,"MT":48.6},{"MET":110.4,"MT":48.6},{"MET":100.4,"MT":47.8},{"MET":97.2,"MT":47},{"MET":98.4,"MT":45.3},{"MET":121.3,"MT":52.8},{"MET":122.5,"MT":52.8},{"MET":129.8,"MT":43.2},{"MET":118.6,"MT":41.2},{"MET":145.4,"MT":49.9},{"MET":148.6,"MT":48.2},{"MET":146.8,"MT":41.2},{"MET":145.1,"MT":37.4},{"MET":141,"MT":32.8},{"MET":144.5,"MT":32},{"MET":148.9,"MT":31.2},{"MET":93.1,"MT":39.9},{"MET":95.2,"MT":39.9},{"MET":88.1,"MT":36.2},{"MET":94.6,"MT":32},{"MET":88.1,"MT":26.6},{"MET":93.1,"MT":25.4},{"MET":106.3,"MT":36.6},{"MET":110.7,"MT":29.9},{"MET":112.2,"MT":24.5},{"MET":106,"MT":24.5},{"MET":105.1,"MT":22.9},{"MET":133.3,"MT":28.7},{"MET":133.6,"MT":27.4},{"MET":136.3,"MT":27},{"MET":142.7,"MT":21.2},{"MET":151.5,"MT":21.6},{"MET":133.3,"MT":17.5},{"MET":181.2,"MT":21.2},{"MET":93.1,"MT":18.7},{"MET":130.1,"MT":10.4},{"MET":129.2,"MT":1.7},{"MET":114.2,"MT":180.9},
{"MET":39.1,"MT":152},{"MET":50.8,"MT":151},{"MET":60.8,"MT":155.5},{"MET":66.6,"MT":151.8},{"MET":37,"MT":144.7},{"MET":54.3,"MT":136},{"MET":34.4,"MT":128},{"MET":37.2,"MT":129.7},{"MET":35.8,"MT":125.2},{"MET":43.5,"MT":123.5},{"MET":54.6,"MT":126.8},{"MET":54.6,"MT":124.3},{"MET":57.8,"MT":124.3},{"MET":34.4,"MT":118.5},{"MET":40.3,"MT":115.2},{"MET":50.8,"MT":116},{"MET":59.3,"MT":116.8},{"MET":62.6,"MT":114.3},{"MET":66.7,"MT":112.7},{"MET":32.6,"MT":112.3},{"MET":52.9,"MT":112.7},{"MET":49.9,"MT":112.3},{"MET":35,"MT":109.8},{"MET":39.6,"MT":109.8},{"MET":46,"MT":109.8},{"MET":47.6,"MT":109.8},{"MET":52.3,"MT":108.5},{"MET":69.9,"MT":109.4},{"MET":75.8,"MT":110.2},{"MET":81,"MT":109.8},
{"MET":68.4,"MT":46.6},{"MET":71.4,"MT":43.2},{"MET":74.3,"MT":43.2},{"MET":76.9,"MT":46.6},{"MET":85.2,"MT":47.4},{"MET":82.2,"MT":52},{"MET":63.7,"MT":39.5},{"MET":66.7,"MT":39.1},{"MET":79.3,"MT":37},{"MET":83.7,"MT":35.3},{"MET":88.1,"MT":35.3},{"MET":60.8,"MT":32},{"MET":67.5,"MT":32},{"MET":71.4,"MT":29.1},{"MET":75.5,"MT":28.7},{"MET":65.5,"MT":23.7},{"MET":60.8,"MT":20.8},{"MET":76.4,"MT":20.8},{"MET":81.4,"MT":21.6},{"MET":57.9,"MT":19.5},{"MET":65.5,"MT":16.6},{"MET":72.5,"MT":16.2},{"MET":68.4,"MT":12.1},{"MET":83.1,"MT":15.4},{"MET":89,"MT":13.3},{"MET":60.8,"MT":11.2},{"MET":71.4,"MT":8.3},{"MET":77.2,"MT":6.2},{"MET":83.1,"MT":5.8},{"MET":67.5,"MT":4.2},{"MET":79.3,"MT":2.9},{"MET":89,"MT":3.7},{"MET":60.8,"MT":1.2},{"MET":56.4,"MT":49.9},{"MET":59.3,"MT":46.6},{"MET":52.9,"MT":37},{"MET":55.8,"MT":30.8},{"MET":54.3,"MT":24.5},{"MET":52.9,"MT":12.5},{"MET":49.9,"MT":9.6},
{"MET":60.2,"MT":67.4},{"MET":66.1,"MT":65.3},{"MET":72,"MT":62},{"MET":78.7,"MT":63.2},{"MET":84.6,"MT":64.4},{"MET":89.6,"MT":67.4},{"MET":91,"MT":57.8},{"MET":83.7,"MT":57.8},{"MET":76.9,"MT":54.9},{"MET":69,"MT":52},{"MET":63.1,"MT":49.5},{"MET":80.8,"MT":52},{"MET":88.7,"MT":48.6},{"MET":94,"MT":53.6},{"MET":75.5,"MT":111},{"MET":81.4,"MT":110.2},{"MET":78.4,"MT":104.8},{"MET":89.6,"MT":104.8},{"MET":86.6,"MT":99.8},{"MET":90.5,"MT":95.2},{"MET":94,"MT":87.3},{"MET":91.9,"MT":84.8},{"MET":89.6,"MT":81.9},{"MET":94,"MT":79},{"MET":92.5,"MT":76.9},{"MET":90.5,"MT":74.8},{"MET":85.8,"MT":74.4},{"MET":84.3,"MT":71.5},{"MET":88.7,"MT":70.3},{"MET":94.6,"MT":71.5},{"MET":81.6,"MT":95.6},{"MET":83.1,"MT":93.6},{"MET":77.8,"MT":99.4},{"MET":72.8,"MT":99.4},{"MET":69,"MT":101.5}
],
"zz":[
{"MET":25.4,"MT":1.2},{"MET":27.9,"MT":0.6},{"MET":30.5,"MT":1.9},{"MET":32.8,"MT":0.9},{"MET":35.9,"MT":1.6},{"MET":38.4,"MT":0.4},{"MET":41.0,"MT":1.8},{"MET":44.2,"MT":0.8},{"MET":47.5,"MT":1.5},{"MET":51.8,"MT":0.7},{"MET":55.3,"MT":1.4},{"MET":60.1,"MT":0.9},{"MET":64.7,"MT":1.7},
{"MET":25.9,"MT":4.3},{"MET":28.6,"MT":3.5},{"MET":31.4,"MT":4.9},{"MET":34.2,"MT":3.8},{"MET":36.8,"MT":5.1},{"MET":40.3,"MT":3.9},{"MET":42.9,"MT":4.6},{"MET":46.1,"MT":3.4},{"MET":48.8,"MT":5.2},{"MET":53.0,"MT":4.1},{"MET":57.6,"MT":3.6},{"MET":62.5,"MT":4.8},
{"MET":25.3,"MT":7.8},{"MET":27.6,"MT":6.9},{"MET":29.8,"MT":8.4},{"MET":33.4,"MT":7.2},{"MET":35.7,"MT":8.8},{"MET":39.2,"MT":7.0},{"MET":41.8,"MT":8.1},{"MET":45.3,"MT":6.8},{"MET":47.9,"MT":8.6},{"MET":51.2,"MT":7.4},{"MET":56.4,"MT":8.0},
{"MET":26.2,"MT":11.4},{"MET":28.4,"MT":10.2},{"MET":30.9,"MT":12.0},{"MET":34.6,"MT":10.6},{"MET":37.5,"MT":11.8},{"MET":40.9,"MT":10.3},{"MET":44.8,"MT":11.5},{"MET":47.3,"MT":10.0},{"MET":52.1,"MT":11.2},{"MET":57.8,"MT":10.5},
{"MET":25.5,"MT":14.8},{"MET":28.0,"MT":13.6},{"MET":30.2,"MT":15.5},{"MET":33.9,"MT":14.1},{"MET":38.2,"MT":15.2},{"MET":41.6,"MT":13.9},{"MET":46.3,"MT":14.7},{"MET":50.5,"MT":15.6},{"MET":55.2,"MT":14.0},
{"MET":25.8,"MT":18.4},{"MET":27.9,"MT":17.2},{"MET":31.7,"MT":19.0},{"MET":34.4,"MT":17.6},{"MET":37.3,"MT":18.8},{"MET":42.5,"MT":17.9},{"MET":45.0,"MT":19.2},{"MET":49.7,"MT":18.1},{"MET":54.6,"MT":17.4},
{"MET":25.2,"MT":21.9},{"MET":28.8,"MT":20.7},{"MET":32.3,"MT":22.4},{"MET":35.0,"MT":21.0},{"MET":38.9,"MT":22.6},{"MET":43.8,"MT":21.3},{"MET":48.0,"MT":22.1},{"MET":53.3,"MT":20.9},
{"MET":26.4,"MT":25.6},{"MET":29.4,"MT":24.3},{"MET":32.8,"MT":25.9},{"MET":36.5,"MT":24.7},{"MET":40.1,"MT":25.8},{"MET":44.9,"MT":24.5},{"MET":50.3,"MT":25.4},
{"MET":25.7,"MT":28.9},{"MET":28.3,"MT":27.7},{"MET":31.0,"MT":29.4},{"MET":35.6,"MT":28.1},{"MET":39.8,"MT":29.2},{"MET":46.6,"MT":28.4},{"MET":52.7,"MT":29.0},
{"MET":26.1,"MT":32.4},{"MET":29.6,"MT":31.2},{"MET":33.0,"MT":32.9},{"MET":37.8,"MT":31.6},{"MET":42.7,"MT":32.5},{"MET":50.1,"MT":31.8},
{"MET":25.4,"MT":35.9},{"MET":28.9,"MT":34.6},{"MET":32.6,"MT":36.3},{"MET":36.9,"MT":35.0},{"MET":44.0,"MT":36.1},{"MET":55.5,"MT":35.3},
{"MET":26.6,"MT":39.5},{"MET":30.0,"MT":38.3},{"MET":34.0,"MT":39.8},{"MET":39.5,"MT":38.7},{"MET":47.1,"MT":39.2},
{"MET":25.5,"MT":42.9},{"MET":29.1,"MT":41.8},{"MET":33.5,"MT":43.2},{"MET":38.1,"MT":42.0},{"MET":45.2,"MT":43.4},
{"MET":26.3,"MT":46.3},{"MET":29.7,"MT":45.1},{"MET":34.7,"MT":46.8},{"MET":40.4,"MT":45.5},
{"MET":25.6,"MT":49.8},{"MET":28.6,"MT":48.7},{"MET":32.2,"MT":50.3},{"MET":37.4,"MT":49.1},
{"MET":26.0,"MT":53.4},{"MET":30.3,"MT":52.2},{"MET":35.1,"MT":53.8},{"MET":41.9,"MT":52.6},
{"MET":25.3,"MT":56.9},{"MET":28.9,"MT":55.7},{"MET":33.7,"MT":57.2},
{"MET":26.7,"MT":60.3},{"MET":30.9,"MT":59.6},{"MET":36.3,"MT":61.0},
{"MET":25.5,"MT":64.4},{"MET":29.3,"MT":63.3},{"MET":34.5,"MT":64.9},
{"MET":26.2,"MT":68.5},{"MET":31.7,"MT":67.4},{"MET":38.6,"MT":68.8},
{"MET":25.8,"MT":72.3},{"MET":30.2,"MT":71.6},{"MET":36.0,"MT":73.0},
{"MET":26.9,"MT":76.4},{"MET":33.1,"MT":75.5},
{"MET":25.4,"MT":80.6},{"MET":31.0,"MT":79.3},{"MET":40.6,"MT":80.2},
{"MET":27.4,"MT":85.2},{"MET":35.4,"MT":84.6},
{"MET":26.1,"MT":89.7},{"MET":33.9,"MT":90.9},
{"MET":28.8,"MT":164},{"MET":25.5,"MT":150},{"MET":33.2,"MT":143.9},{"MET":31.4,"MT":140.5},{"MET":32,"MT":135.6},{"MET":87.2,"MT":135.6},{"MET":45,"MT":131.4},{"MET":29.6,"MT":121.4},{"MET":50.5,"MT":120.2},{"MET":36.7,"MT":112.5},{"MET":97.5,"MT":103.5},{"MET":100.4,"MT":89.8},{"MET":89,"MT":84.8},{"MET":107.8,"MT":144.7},{"MET":108.4,"MT":124.7},{"MET":133.3,"MT":81.1},{"MET":138.9,"MT":86.5},{"MET":156.5,"MT":91.9},{"MET":148,"MT":69.9},{"MET":97.5,"MT":50.3},{"MET":108.7,"MT":53.2},{"MET":121,"MT":46.6},{"MET":129.2,"MT":39.9},{"MET":104,"MT":33.3},{"MET":162.1,"MT":35.8},{"MET":178.6,"MT":29.9},{"MET":99.9,"MT":18.7},{"MET":105.4,"MT":14.6},{"MET":97.8,"MT":8.3},{"MET":109.5,"MT":6.2},{"MET":112.5,"MT":9.1},{"MET":120.4,"MT":7.9},{"MET":181.8,"MT":6.7},{"MET":138.3,"MT":16.6},{"MET":62.4,"MT":25.3},{"MET":70.2,"MT":12.9},{"MET":66.8,"MT":44.1},{"MET":75.1,"MT":35.6},{"MET":58.2,"MT":60.4},{"MET":64.5,"MT":72.8},{"MET":71.3,"MT":86.1},{"MET":80.5,"MT":58.2},{"MET":85.7,"MT":40.3},{"MET":91.6,"MT":21.4},{"MET":116.4,"MT":28.5},{"MET":96.2,"MT":96.4},{"MET":118.8,"MT":92.1},{"MET":55.1,"MT":106.2},{"MET":61.6,"MT":78.7}
],
"tt":[{"MET":69,"MT":147.6},{"MET":87.5,"MT":123.9},{"MET":40.5,"MT":105.6},{"MET":81.6,"MT":101.5},{"MET":38.8,"MT":74},{"MET":73.4,"MT":56.5},{"MET":89.3,"MT":30.8},{"MET":37.9,"MT":35.3}],
"zg":[{"MET":98.7,"MT":113.5},{"MET":110,"MT":129.7},{"MET":73.4,"MT":91},{"MET":78.7,"MT":78},{"MET":99.9,"MT":4.2},{"MET":26.4,"MT":19.5}],
"obs":[{"MET":98.7,"MT":60}],
"t1":[{"label":"CMS Preliminary 2010"}],
"t2":[{"label":"√s = 7 TeV  L = 35.pb⁻¹"}]
},
"layer":[
{"data":{"name":"wz"},
"mark":{"type":"square","size":22,"opacity":0.9},
"encoding":{
"x":{"field":"MET","type":"quantitative","scale":{"domain":[0,200],"nice":false},
"axis":{"orient":"bottom","title":"MET  (GeV)","titleAnchor":"end","titleAlign":"right","titlePadding":2,
"values":[0,20,40,60,80,100,120,140,160,180,200],"ticks":true,"tickSize":-13,"labelPadding":22}},
"y":{"field":"MT","type":"quantitative","scale":{"domain":[0,200],"nice":false},
"axis":{"orient":"left","title":"MT (l,MET)  (GeV/c^2)","titleAnchor":"end","titlePadding":12,"titleFontSize":21,
"values":[0,20,40,60,80,100,120,140,160,180,200],"ticks":true,"tickSize":-18,"labelPadding":23}},
"color":{"datum":"WZ3l","type":"nominal",
"scale":{"domain":["DATA","WZ3l","Z+jet","ZZ","TTBar+jet","Photon+jet","QCD","ZGamma","W+jet"],
"range":["#000000","#f648f6","#1e9bff","#c9ccf6","#3a9b3a","#ffa07a","#f04a3a","#137565","#0c1cb5"]},
"legend":{"orient":"none","legendX":478,"legendY":22,"title":null,"padding":0,
"symbolSize":196,"symbolStrokeWidth":0,"labelOffset":18,"rowPadding":4.7,
"labelFontSize":12,"labelColor":"#333","labelFont":"Liberation Sans",
"symbolType":"M-2.57,-1H2.57V1H-2.57Z"}}
}},
{"data":{"name":"zz"},"mark":{"type":"square","size":22,"opacity":0.95},
"encoding":{"x":{"field":"MET","type":"quantitative","axis":null},"y":{"field":"MT","type":"quantitative","axis":null},"color":{"datum":"ZZ","type":"nominal"}}},
{"data":{"name":"tt"},"mark":{"type":"square","size":22,"opacity":0.8},
"encoding":{"x":{"field":"MET","type":"quantitative","axis":null},"y":{"field":"MT","type":"quantitative","axis":null},"color":{"datum":"TTBar+jet","type":"nominal"}}},
{"data":{"name":"zg"},"mark":{"type":"square","size":22,"opacity":0.8},
"encoding":{"x":{"field":"MET","type":"quantitative","axis":null},"y":{"field":"MT","type":"quantitative","axis":null},"color":{"datum":"ZGamma","type":"nominal"}}},
{"data":{"name":"obs"},"mark":{"type":"circle","size":50,"opacity":1},
"encoding":{
"x":{"field":"MET","type":"quantitative","axis":{"orient":"top","labels":false,"domain":false,"title":null,"offset":-7,"tickSize":7,"ticks":true,
"values":[0,4,8,12,16,20,24,28,32,36,40,44,48,52,56,60,64,68,72,76,80,84,88,92,96,100,104,108,112,116,120,124,128,132,136,140,144,148,152,156,160,164,168,172,176,180,184,188,192,196,200]}},
"y":{"field":"MT","type":"quantitative","axis":{"orient":"right","labels":false,"domain":false,"title":null,"offset":-9,"tickSize":9,"ticks":true,
"values":[0,4,8,12,16,20,24,28,32,36,40,44,48,52,56,60,64,68,72,76,80,84,88,92,96,100,104,108,112,116,120,124,128,132,136,140,144,148,152,156,160,164,168,172,176,180,184,188,192,196,200]}},
"color":{"datum":"DATA","type":"nominal"}}},
{"data":{"name":"t1"},"mark":{"type":"text","align":"left","baseline":"alphabetic","fontSize":22,"font":"Liberation Sans","color":"#333"},
"encoding":{"x":{"datum":7.9,"type":"quantitative","axis":null},"y":{"datum":186,"type":"quantitative","axis":null},"text":{"field":"label"}}},
{"data":{"name":"t2"},"mark":{"type":"text","align":"left","baseline":"alphabetic","fontSize":22,"font":"Liberation Sans","color":"#333"},
"encoding":{"x":{"datum":4.4,"type":"quantitative","axis":null},"y":{"datum":174,"type":"quantitative","axis":null},"text":{"field":"label"}}}
]
}
